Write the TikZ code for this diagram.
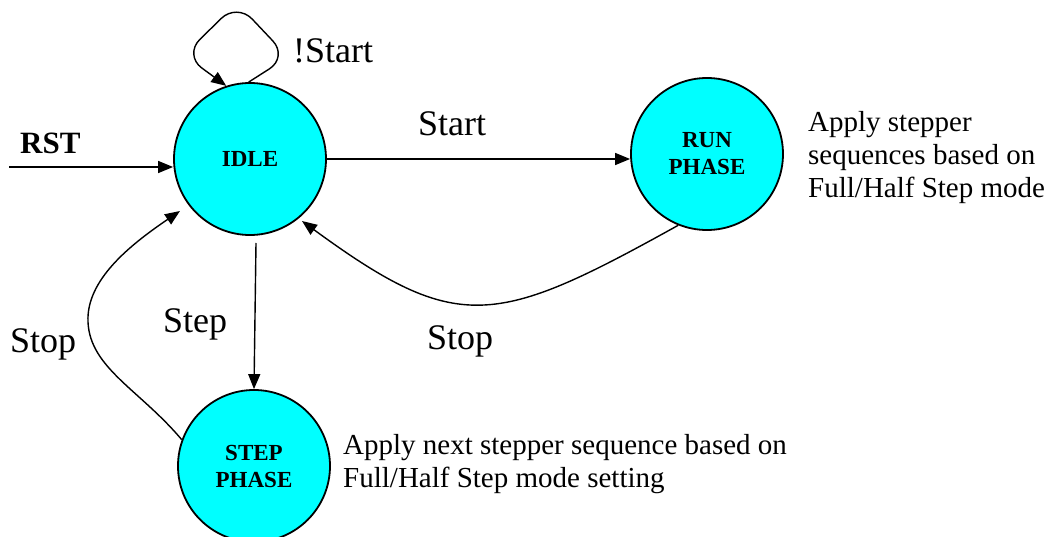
\documentclass[tikz,border=0pt]{standalone}
\usepackage{fontspec}
\setmainfont{Liberation Serif}
\usetikzlibrary{arrows.meta}
\definecolor{statefill}{HTML}{00FFFF}
\begin{document}
\begin{tikzpicture}[x=1pt,y=-1pt,
  state/.style={circle,draw=black,line width=1.8pt,fill=statefill,minimum size=152pt,inner sep=0pt,align=center,font=\fontsize{23}{27}\selectfont\bfseries},
  conn/.style={line width=1.4pt,-{Triangle[length=15pt,width=12pt]}},
  lbl/.style={font=\fontsize{36}{40}\selectfont,inner sep=0pt,anchor=base west},
  note/.style={font=\fontsize{29}{33}\selectfont,inner sep=0pt,align=left,anchor=base west}]
\useasboundingbox (0,0) rectangle (1050,537);
\clip (0,0) rectangle (1050,537);
\fill[white] (0,0) rectangle (1050,537);

\node[state] (idle) at (250,159) {IDLE};
\node[state] (run) at (707,154) {RUN\\PHASE};
\node[state] (step) at (254,466) {STEP\\PHASE};

% RST
\coordinate (rst0) at (9,167);
\draw[conn] (rst0) -- (rst0 -| idle.west);
\node[font=\fontsize{31}{35}\selectfont\bfseries,anchor=base west,inner sep=0pt] (lrst) at (20,154) {RST};

% self loop
\draw[conn,rounded corners=22pt] (idle.91) -- (288,57) -- (237,3) -- (184,55) -- (idle.108);
\node[lbl] (lnstart) at (293,63) {!Start};

% Start
\draw[conn] (idle.east) -- (idle.east -| run.west);
\node[lbl,anchor=base] (lstart) at (452,136) {Start};

% Step
\coordinate (stepS) at (256,243);
\draw[conn] (stepS) -- (step.north);
\node[lbl] (lstep) at (163,333) {Step};

% Stop from STEP
\coordinate (stoptipL) at (180,211);
\coordinate (stopmidL) at (88,322);
\draw[conn] (step.160) .. controls (140,390) and (90,368) .. (stopmidL)
  .. controls (86,280) and (130,245) .. (stoptipL);
\node[lbl] (lstopL) at (10,353) {Stop};

% Stop from RUN
\coordinate (stoptipR) at (302,221);
\draw[conn] (run.248) .. controls (495,327) and (458,335) .. (stoptipR);
\node[lbl] (lstopR) at (427,350) {Stop};

% notes
\node[note] (runnote) at (808,198) {Apply stepper\\sequences based on\\Full/Half Step mode};
\node[note] (stepnote) at (343,487) {Apply next stepper sequence based on\\Full/Half Step mode setting};
\end{tikzpicture}
\end{document}
